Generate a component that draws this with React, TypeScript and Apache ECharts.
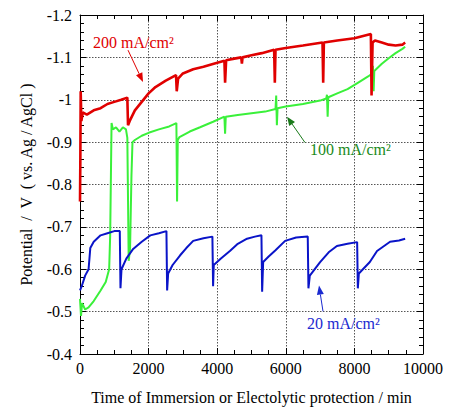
import React, { useEffect, useRef } from "react";
import * as echarts from "echarts";

// Potential (V vs Ag/AgCl) against time (min)
const red200: number[][] = [
  [0, -0.76], [10, -0.86], [20, -1.02], [40, -0.95], [80, -0.97], [200, -0.965], [400, -0.975],
  [600, -0.98], [800, -0.99], [1000, -0.995], [1200, -1.0], [1380, -1.005], [1400, -0.94],
  [1450, -0.95], [1600, -0.975], [1800, -0.995], [2000, -1.015], [2200, -1.03], [2500, -1.045],
  [2800, -1.058], [2820, -1.02], [2860, -1.05], [3000, -1.062], [3300, -1.072], [3600, -1.078],
  [3900, -1.085], [4210, -1.092], [4230, -1.04], [4260, -1.093], [4500, -1.097], [4700, -1.1],
  [4720, -1.085], [4740, -1.1], [5000, -1.105], [5300, -1.11], [5660, -1.118], [5680, -1.04],
  [5700, -1.118], [6000, -1.122], [6500, -1.128], [7070, -1.135], [7090, -1.04], [7110, -1.135],
  [7500, -1.14], [8000, -1.145], [8480, -1.155], [8500, -1.01], [8530, -1.135], [8600, -1.14],
  [8800, -1.135], [9000, -1.13], [9200, -1.128], [9400, -1.13], [9480, -1.135],
];

const green100: number[][] = [
  [0, -0.53], [30, -0.49], [60, -0.52], [150, -0.505], [250, -0.51], [400, -0.525], [600, -0.55],
  [750, -0.57], [850, -0.6], [880, -0.68], [920, -0.945], [960, -0.93], [1050, -0.935],
  [1150, -0.925], [1250, -0.935], [1340, -0.93], [1380, -0.91], [1420, -0.62], [1460, -0.65],
  [1500, -0.82], [1530, -0.9], [1600, -0.905], [1800, -0.915], [2000, -0.922], [2300, -0.93],
  [2600, -0.937], [2810, -0.945], [2830, -0.76], [2850, -0.905], [2900, -0.912], [3200, -0.925],
  [3500, -0.935], [3880, -0.948], [4210, -0.96], [4230, -0.92], [4250, -0.96], [4600, -0.964],
  [5000, -0.968], [5400, -0.972], [5700, -0.978], [5720, -1.01], [5740, -0.94], [5760, -0.98],
  [6000, -0.984], [6500, -0.99], [7000, -0.998], [7180, -1.003], [7200, -1.012], [7220, -0.96],
  [7240, -1.006], [7500, -1.015], [7800, -1.025], [8100, -1.04], [8400, -1.055], [8520, -1.062],
  [8540, -1.08], [8560, -1.02], [8580, -1.068], [8800, -1.085], [9000, -1.098], [9200, -1.11],
  [9400, -1.12], [9480, -1.125],
];

const blue20: number[][] = [
  [0, -0.55], [50, -0.56], [150, -0.585], [250, -0.6], [300, -0.65], [400, -0.665], [600, -0.68],
  [800, -0.685], [1000, -0.69], [1160, -0.69], [1180, -0.555], [1210, -0.6], [1350, -0.625],
  [1550, -0.648], [1800, -0.665], [2050, -0.68], [2300, -0.685], [2520, -0.69], [2540, -0.55],
  [2570, -0.59], [2700, -0.61], [2920, -0.633], [3100, -0.65], [3300, -0.667], [3600, -0.673],
  [3860, -0.677], [3880, -0.56], [3900, -0.61], [4100, -0.625], [4370, -0.643], [4600, -0.66],
  [4870, -0.672], [5100, -0.677], [5290, -0.68], [5310, -0.547], [5340, -0.617], [5500, -0.63],
  [5700, -0.645], [5980, -0.667], [6300, -0.675], [6640, -0.677], [6660, -0.555], [6700, -0.585],
  [7000, -0.617], [7250, -0.64], [7490, -0.655], [7800, -0.66], [8080, -0.664], [8100, -0.555],
  [8130, -0.59], [8450, -0.617], [8660, -0.643], [9040, -0.665], [9300, -0.668], [9480, -0.672],
];

const seriesNames = ["200 mA/cm²", "100 mA/cm²", "20 mA/cm²"];
const xTitle = "Time of Immersion or Electolytic protection / min";
const yTitle = "Potential  /  V  ( vs. Ag / AgCl )";

const FONT = "Liberation Serif";

export default function App() {
  const ref = useRef<HTMLDivElement>(null);
  useEffect(() => {
    const chart = echarts.init(ref.current!, null, { renderer: "svg" });
    const mkLine = () => ({ show: true, onZero: false, lineStyle: { color: "#000", width: 1 } });
    const mkTick = () => ({ show: true, inside: true, length: 6, lineStyle: { color: "#000" } });
    const mkMinor = (n: number) => ({ show: true, splitNumber: n, length: 4, lineStyle: { color: "#000" } });
    const mkGrid = () => ({ show: true, lineStyle: { color: "#555", type: [1.5, 1.5], width: 1 } });
    const labelStyle = { color: "#000", fontFamily: FONT, fontSize: 16 };
    chart.setOption({
      animation: false,
      backgroundColor: "#fff",
      textStyle: { fontFamily: FONT, fontSize: 16, color: "#000" },
      grid: { left: 80, right: 29, top: 15, bottom: 54 },
      xAxis: [
        {
          type: "value", min: 0, max: 10000, interval: 2000, position: "bottom",
          axisLine: mkLine(), axisTick: mkTick(), minorTick: mkMinor(4), splitLine: mkGrid(),
          axisLabel: {
            show: true, ...labelStyle, margin: 6,
            textStyle: labelStyle,
            formatter: (v: number) => String(v),
          },
          name: xTitle, nameLocation: "middle", nameGap: 35,
          nameTextStyle: { ...labelStyle },
        },
        {
          type: "value", min: 0, max: 10000, interval: 2000, position: "top",
          axisLine: mkLine(), axisTick: mkTick(), minorTick: mkMinor(4),
          splitLine: { show: false }, axisLabel: { show: false, ...labelStyle },
        },
      ],
      yAxis: [
        {
          type: "value", min: -1.2, max: -0.4, interval: 0.1, inverse: true, position: "left",
          axisLine: mkLine(), axisTick: mkTick(), minorTick: mkMinor(5), splitLine: mkGrid(),
          axisLabel: {
            show: true, ...labelStyle, margin: 8,
            textStyle: labelStyle,
            formatter: (v: number) => String(Math.round(v * 10) / 10),
          },
          name: yTitle, nameLocation: "middle", nameGap: 46, nameRotate: 90,
          nameTextStyle: { ...labelStyle },
        },
        {
          type: "value", min: -1.2, max: -0.4, interval: 0.1, inverse: true, position: "right",
          axisLine: mkLine(), axisTick: mkTick(), minorTick: mkMinor(5),
          splitLine: { show: false }, axisLabel: { show: false, ...labelStyle },
        },
      ],
      series: [
        {
          name: seriesNames[0], type: "line", data: red200, showSymbol: false, symbol: "none",
          lineStyle: { color: "#e00000", width: 2.6 }, z: 3,
        },
        {
          name: seriesNames[1], type: "line", data: green100, showSymbol: false, symbol: "none",
          lineStyle: { color: "#3af03a", width: 2 }, z: 2,
        },
        {
          name: seriesNames[2], type: "line", data: blue20, showSymbol: false, symbol: "none",
          lineStyle: { color: "#0a14c8", width: 2 }, z: 2,
        },
      ],
    });

    const px = (x: number, y: number) => chart.convertToPixel({ seriesIndex: 0 }, [x, y]) as number[];
    const arrow = (from: number[], to: number[], color: string) => {
      const a = px(from[0], from[1]);
      const b = px(to[0], to[1]);
      const dx = b[0] - a[0], dy = b[1] - a[1];
      const len = Math.hypot(dx, dy);
      const ux = dx / len, uy = dy / len;
      const L = 9, W = 3.5;
      const bx = b[0] - ux * L, by = b[1] - uy * L;
      return [
        { type: "line", shape: { x1: a[0], y1: a[1], x2: bx, y2: by }, style: { stroke: color, lineWidth: 1 }, z: 10 },
        {
          type: "polygon",
          shape: { points: [[b[0], b[1]], [bx - uy * W, by + ux * W], [bx + uy * W, by - ux * W]] },
          style: { fill: color }, z: 10,
        },
      ];
    };
    const label = (text: string, at: number[], color: string) => {
      const p = px(at[0], at[1]);
      return {
        type: "text", x: p[0], y: p[1], z: 10,
        style: {
          text, fill: color, fontFamily: FONT, fontSize: 16,
          align: "left", verticalAlign: "middle",
        },
      };
    };
    chart.setOption({
      graphic: [
        label(seriesNames[0], [379, -1.136], "#e00000"),
        ...arrow([1400, -1.117], [1837, -1.042], "#e00000"),
        label(seriesNames[1], [6705, -0.883], "#1a8a1a"),
        ...arrow([6560, -0.899], [6035, -0.96], "#1a7a1a"),
        label(seriesNames[2], [6618, -0.4725], "#1a2ad0"),
        ...arrow([7085, -0.5006], [6968, -0.5615], "#1a2ad0"),
      ],
    });
    return () => chart.dispose();
  }, []);
  return <div ref={ref} style={{ position: "fixed", left: 0, top: 0, width: 452, height: 410 }} />;
}
